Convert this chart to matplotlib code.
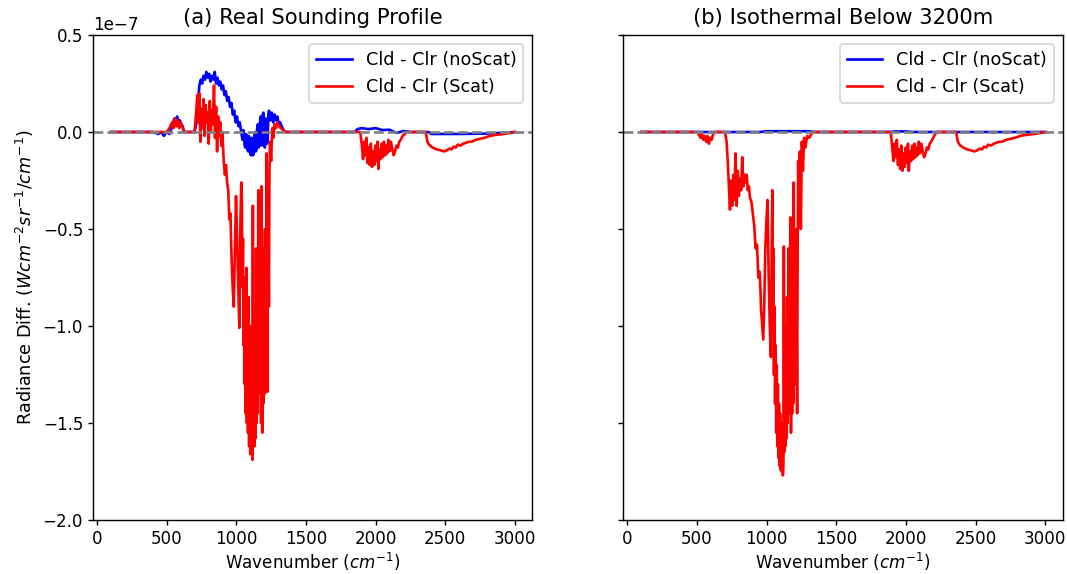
import numpy as np
import matplotlib
matplotlib.use('Agg')
import matplotlib.pyplot as plt

# Wavenumber grid (cm-1) and radiance differences (units of 1e-7 W cm-2 sr-1 / cm-1)
# (a) real sounding profile, no scattering
wn_a_noscat = [100, 400, 440, 460, 480, 500, 520, 540, 555, 565, 575, 585, 595, 605, 615, 625,
               700, 715, 725, 735, 745, 755, 765, 775, 785, 795, 805, 815, 825, 835, 845, 855,
               865, 875, 885, 895, 905, 915, 925, 935, 945, 955, 965, 975, 985, 995, 1005, 1015,
               1025, 1035, 1045, 1050, 1055, 1060, 1065, 1070, 1075, 1080, 1085, 1090, 1095, 1100,
               1105, 1110, 1115, 1120, 1125, 1130, 1135, 1140, 1145, 1150, 1155, 1160, 1165, 1170,
               1175, 1180, 1185, 1190, 1195, 1200, 1205, 1210, 1215, 1220, 1225, 1230, 1235, 1245,
               1255, 1265, 1275, 1285, 1295, 1305, 1315, 1325, 1340, 1355, 1850, 1870, 1900, 1950,
               2000, 2050, 2100, 2150, 2200, 2250, 2380, 2400, 2600, 2800, 2950, 3000]
rad_a_noscat = [0, 0, -0.01, 0, -0.02, 0, -0.01, 0.03, 0.07, 0.04, 0.08, 0.05, 0.06, 0.04, 0.03, 0.0,
                0.0, 0.05, 0.15, 0.24, 0.27, 0.25, 0.29, 0.27, 0.31, 0.28, 0.30, 0.26, 0.29, 0.27, 0.31, 0.25,
                0.28, 0.24, 0.26, 0.22, 0.24, 0.19, 0.21, 0.16, 0.18, 0.13, 0.15, 0.09, 0.11, 0.05, 0.08, 0.03,
                0.05, 0.0, -0.04, 0.01, -0.02, -0.07, -0.08, -0.01, -0.03, -0.09, -0.10, -0.02, -0.05, -0.11,
                -0.12, -0.03, -0.04, -0.12, -0.11, -0.02, 0.0, -0.10, -0.09, 0.02, 0.04, -0.08, -0.06, 0.05,
                0.08, -0.07, -0.03, 0.09, 0.10, -0.02, -0.08, 0.07, 0.06, -0.06, -0.05, 0.09, 0.11, 0.06,
                0.10, 0.05, 0.09, 0.06, 0.08, 0.04, 0.05, 0.03, 0.01, 0.0, 0.0, 0.015, 0.02, 0.015,
                0.02, 0.01, 0.012, -0.005, 0.005, 0.0, 0.0, -0.01, -0.01, -0.008, -0.003, 0.0]

# (a) real sounding profile, with scattering
wn_a_scat = [100, 500, 520, 540, 550, 560, 570, 580, 590, 600, 610, 620, 630,
             700, 710, 720, 728, 735, 742, 750, 757, 765, 772, 780, 787, 795, 802, 810, 817, 825,
             832, 840, 847, 855, 862, 870, 877, 885, 892, 900, 910, 918, 926, 934, 942, 950, 958,
             966, 974, 982, 990, 998, 1006, 1014, 1022, 1030, 1036,
             1040, 1044, 1048, 1052, 1056, 1060, 1064, 1068, 1072, 1076, 1080, 1084, 1088, 1092,
             1096, 1100, 1104, 1108, 1112, 1116, 1119, 1122, 1126, 1130, 1134, 1138, 1142, 1146,
             1150, 1154, 1158, 1162, 1166, 1170, 1174, 1178, 1182, 1186, 1190, 1194, 1198, 1202,
             1206, 1210, 1214, 1218, 1222, 1226, 1230, 1234, 1238, 1242,
             1250, 1258, 1266, 1275, 1285, 1295, 1305, 1320, 1335, 1350,
             1890, 1900, 1910, 1918, 1926, 1934, 1942, 1950, 1958, 1966, 1974, 1982, 1990, 1998,
             2006, 2014, 2020, 2028, 2036, 2044, 2052, 2060, 2068, 2076, 2084, 2092, 2100, 2110,
             2120, 2130, 2140, 2150, 2160, 2170, 2180, 2195, 2210, 2225,
             2360, 2365, 2372, 2385, 2400, 2410, 2425, 2440, 2455, 2470, 2490, 2510, 2530, 2545,
             2560, 2575, 2590, 2610, 2630, 2650, 2670, 2690, 2720, 2750, 2780, 2820, 2860, 2900,
             2940, 2980, 3000]
rad_a_scat = [0, 0, 0.02, 0.05, 0.02, 0.07, 0.03, 0.06, 0.02, 0.05, 0.03, 0.01, 0.0,
              0.0, 0.08, 0.19, 0.05, 0.20, -0.05, 0.12, 0.02, 0.17, -0.02, 0.14, 0.05, 0.10, -0.06, 0.16, 0.0, 0.11,
              0.04, 0.24, -0.03, 0.13, -0.10, 0.08, -0.02, 0.05, -0.07, 0.0, -0.15, -0.22, -0.17, -0.26, -0.30, -0.45, -0.42,
              -0.65, -0.80, -0.90, -0.60, -0.33, -0.55, -0.80, -1.01, -0.45, -0.26,
              -0.35, -0.80, -0.55, -1.10, -0.75, -1.30, -0.95, -1.45, -0.70, -1.50, -1.05, -1.55, -0.85, -1.62,
              -1.20, -1.66, -1.00, -1.64, -1.35, -1.69, -0.38, -1.60, -1.25, -1.62, -0.90, -1.58, -0.60, -1.50,
              -0.95, -1.45, -0.30, -1.35, -0.70, -1.20, -0.45, -1.50, -0.28, -1.55, -0.85, -1.40, -0.60, -1.35,
              -0.50, -1.20, -0.75, -0.11, -1.34, -0.60, -0.40, -0.90, -0.20, -0.05,
              -0.15, 0.02, -0.03, 0.04, 0.02, 0.05, 0.03, 0.02, 0.01, 0.0,
              0.0, -0.06, -0.14, -0.05, -0.12, -0.03, -0.16, -0.08, -0.17, -0.06, -0.18, -0.10, -0.17, -0.07,
              -0.15, -0.05, -0.19, -0.09, -0.14, -0.06, -0.13, -0.05, -0.12, -0.07, -0.11, -0.04, -0.10, -0.05,
              -0.09, -0.12, -0.10, -0.07, -0.08, -0.05, -0.04, -0.02, -0.01, 0.0,
              0.0, -0.02, -0.05, -0.066, -0.075, -0.08, -0.085, -0.09, -0.092, -0.095, -0.10, -0.095, -0.085, -0.09,
              -0.075, -0.08, -0.065, -0.07, -0.06, -0.055, -0.05, -0.05, -0.04, -0.035, -0.03, -0.02, -0.015, -0.012,
              -0.008, -0.003, 0.0]

# (b) isothermal below 3200 m, no scattering
wn_b_noscat = [100, 950, 1000, 1300, 1350, 1880, 1920, 2000, 2050, 3000]
rad_b_noscat = [0, 0, 0.004, 0.004, 0, 0, 0.003, 0.003, 0, 0]

# (b) isothermal below 3200 m, with scattering
wn_b_scat = [100, 500, 510, 525, 535, 545, 555, 565, 575, 585, 595, 605, 615, 630,
             700, 712, 720, 728, 736, 744, 752, 760, 768, 776, 784, 792, 800, 808, 816, 824,
             832, 840, 848, 856, 864, 872, 880, 890, 900, 910, 920, 930, 940, 950, 960, 968,
             975, 982, 990, 998, 1006, 1014, 1022, 1030, 1036,
             1040, 1044, 1048, 1052, 1056, 1060, 1064, 1068, 1072, 1076, 1080, 1084, 1088, 1092,
             1096, 1100, 1104, 1108, 1112, 1116, 1120, 1123, 1126, 1130, 1134, 1138, 1142, 1146,
             1150, 1154, 1158, 1162, 1166, 1170, 1174, 1178, 1182, 1186, 1190, 1194, 1198, 1202,
             1206, 1210, 1214, 1218, 1222, 1226, 1230, 1234, 1238,
             1245, 1252, 1260, 1268, 1278, 1290, 1305, 1320, 1335,
             1890, 1900, 1910, 1918, 1926, 1934, 1942, 1950, 1958, 1966, 1974, 1982, 1990, 1998,
             2006, 2014, 2020, 2028, 2036, 2044, 2052, 2060, 2068, 2076, 2084, 2092, 2100, 2110,
             2120, 2130, 2140, 2150, 2160, 2170, 2180, 2195, 2210, 2225,
             2360, 2365, 2372, 2385, 2400, 2410, 2425, 2440, 2455, 2470, 2490, 2510, 2530, 2545,
             2560, 2575, 2590, 2610, 2630, 2650, 2670, 2690, 2720, 2750, 2780, 2820, 2860, 2900,
             2940, 2980, 3000]
rad_b_scat = [0, 0, -0.01, -0.03, -0.01, -0.04, -0.02, -0.05, -0.02, -0.06, -0.03, -0.04, -0.01, 0.0,
              0.0, -0.05, -0.15, -0.28, -0.40, -0.25, -0.38, -0.22, -0.35, -0.11, -0.38, -0.20, -0.33, -0.24, -0.30, -0.13,
              -0.28, -0.22, -0.26, -0.22, -0.30, -0.28, -0.34, -0.36, -0.42, -0.48, -0.60, -0.58, -0.75, -0.72, -0.92, -1.00,
              -1.07, -0.90, -0.60, -0.45, -0.35, -0.75, -1.00, -1.16, -0.55,
              -0.30, -0.85, -0.60, -1.25, -0.90, -1.40, -1.10, -1.55, -1.20, -1.62, -1.30, -1.68, -1.40, -1.72,
              -1.45, -1.74, -1.50, -1.75, -1.55, -1.77, -1.70, -0.59, -1.65, -1.40, -1.62, -1.00, -1.58, -0.85,
              -1.50, -1.05, -0.60, -1.45, -0.90, -0.44, -1.55, -0.95, -1.45, -0.70, -1.40, -0.26, -1.20, -0.80,
              -0.50, -1.30, -0.90, -1.45, -0.60, -0.15, -0.40, -0.20, -0.10,
              -0.50, -0.05, -0.20, -0.03, -0.08, -0.02, -0.03, -0.01, 0.0,
              0.0, -0.07, -0.15, -0.06, -0.13, -0.04, -0.17, -0.09, -0.19, -0.07, -0.20, -0.11, -0.18, -0.08,
              -0.16, -0.06, -0.20, -0.10, -0.15, -0.07, -0.14, -0.06, -0.13, -0.08, -0.12, -0.05, -0.11, -0.06,
              -0.10, -0.13, -0.11, -0.08, -0.09, -0.06, -0.05, -0.03, -0.01, 0.0,
              0.0, -0.02, -0.05, -0.066, -0.075, -0.08, -0.085, -0.09, -0.092, -0.095, -0.10, -0.095, -0.085, -0.09,
              -0.075, -0.08, -0.065, -0.07, -0.06, -0.055, -0.05, -0.05, -0.04, -0.035, -0.03, -0.02, -0.015, -0.012,
              -0.008, -0.003, 0.0]

panels = [
    ('(a) Real Sounding Profile', wn_a_noscat, rad_a_noscat, wn_a_scat, rad_a_scat),
    ('(b) Isothermal Below 3200m', wn_b_noscat, rad_b_noscat, wn_b_scat, rad_b_scat),
]

# original looks like a default-sized figure saved at a higher dpi
fig, axes = plt.subplots(1, 2, figsize=(1067 / 127, 574 / 127), dpi=127, sharey=True)
plt.subplots_adjust(left=0.087, right=0.996, bottom=0.094, top=0.939, wspace=0.207)

for ax, (title, wn1, r1, wn2, r2) in zip(axes, panels):
    ax.plot(wn1, np.array(r1) * 1e-7, color='blue', lw=1.5, label='Cld - Clr (noScat)')
    ax.plot(wn2, np.array(r2) * 1e-7, color='red', lw=1.5, label='Cld - Clr (Scat)')
    ax.axhline(0, color='gray', lw=1.5, linestyle='--')
    ax.set_xlim(-30, 3125)
    ax.set_ylim(-2.0e-7, 0.5e-7)
    ax.set_xticks([0, 500, 1000, 1500, 2000, 2500, 3000])
    ax.set_title(title)
    ax.set_xlabel('Wavenumber ($cm^{-1}$)', fontsize=9.5, labelpad=2)
    ax.tick_params(labelsize=9.5, length=3, pad=2.5)
    ax.legend(loc='upper right')

axes[0].set_ylabel('Radiance Diff. ($Wcm^{-2}sr^{-1}/cm^{-1}$)')
axes[0].yaxis.get_offset_text().set_fontsize(9.5)

fig.savefig('out.png', dpi=127)
